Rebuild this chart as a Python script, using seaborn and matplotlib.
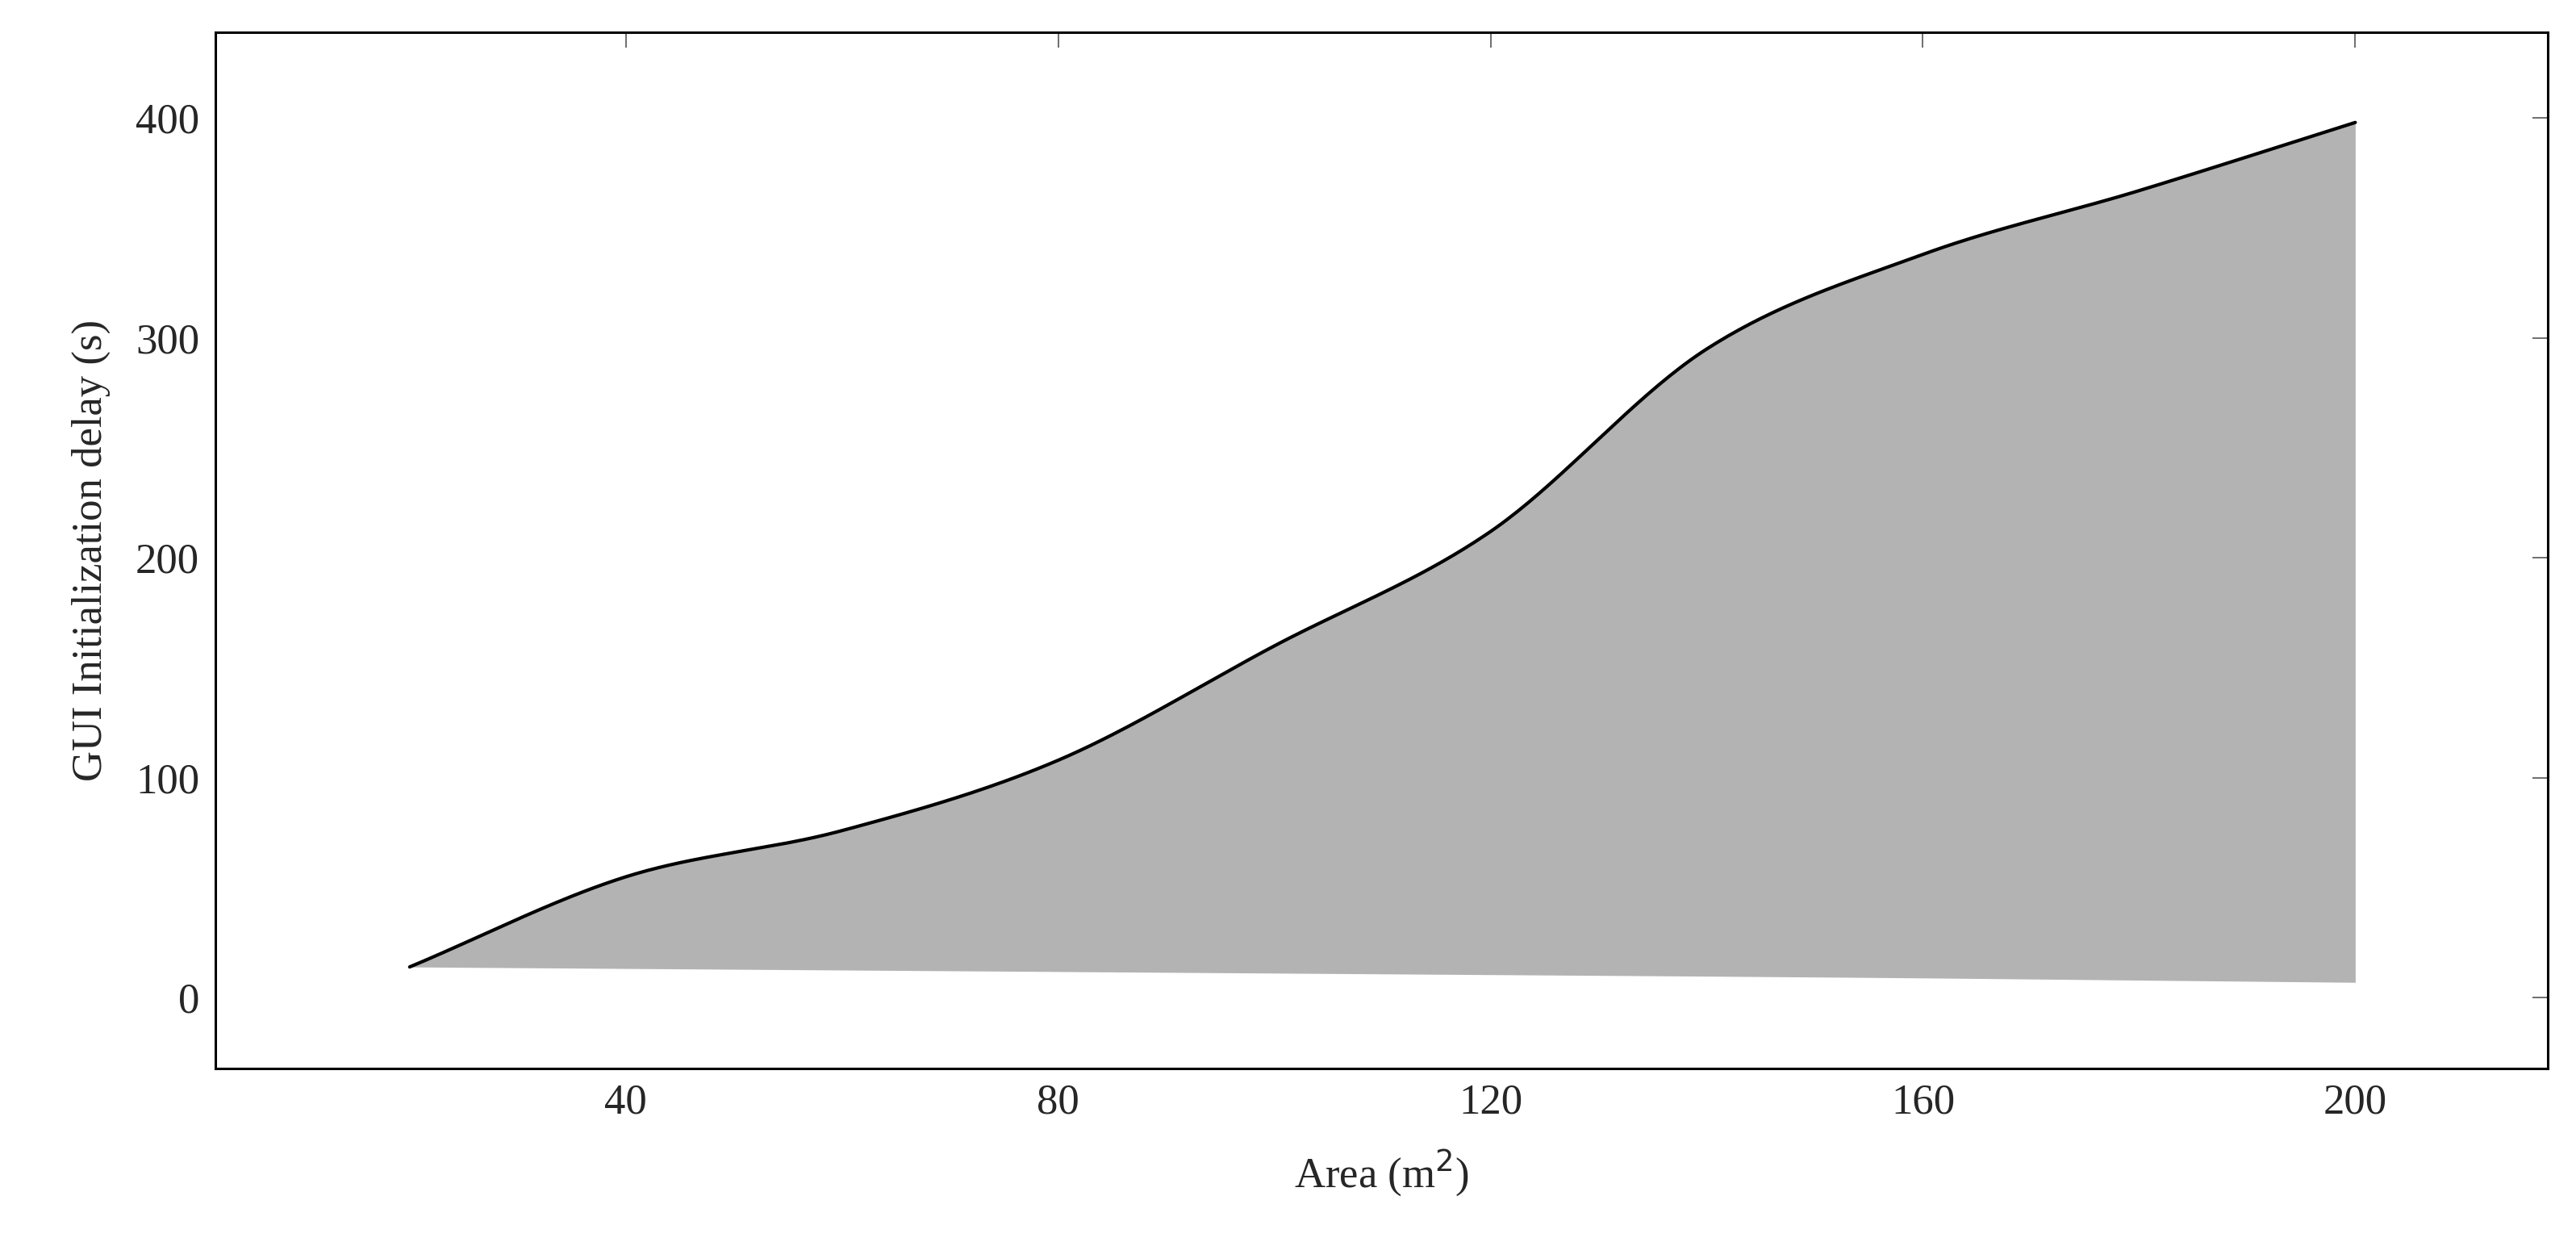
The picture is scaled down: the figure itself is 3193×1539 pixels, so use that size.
import numpy as np
import matplotlib
matplotlib.use("Agg")
import matplotlib.pyplot as plt
import seaborn as sns

area = [20, 40, 60, 80, 100, 120, 140, 160, 180, 200]
delay_upper = [14, 55, 76, 108, 160, 212, 295, 338, 367, 398]
delay_lower = [14, 13.3, 12.6, 11.9, 11.2, 10.5, 9.8, 9.0, 8.0, 7.0]
xticks = [40, 80, 120, 160, 200]
yticks = [0, 100, 200, 300, 400]

def smooth(x, y, n=40):
    x = np.asarray(x, float); y = np.asarray(y, float)
    m = np.gradient(y, x)
    xs, ys = [], []
    for i in range(len(x) - 1):
        h = x[i+1] - x[i]
        t = np.linspace(0, 1, n, endpoint=False)
        h00 = 2*t**3 - 3*t**2 + 1; h10 = t**3 - 2*t**2 + t
        h01 = -2*t**3 + 3*t**2; h11 = t**3 - t**2
        xs.append(x[i] + t*h)
        ys.append(h00*y[i] + h10*h*m[i] + h01*y[i+1] + h11*h*m[i+1])
    xs.append([x[-1]]); ys.append([y[-1]])
    return np.concatenate(xs), np.concatenate(ys)

sns.set_theme(style="white")
plt.rcParams['font.family'] = ['Liberation Serif', 'DejaVu Serif']

fig = plt.figure(figsize=(31.93, 15.39), dpi=100)
ax = fig.add_axes([0.0835, 0.140, 0.9055, 0.834])
xu, yu = smooth(area, delay_upper)
xl, yl = smooth(area, delay_lower)
ax.fill_between(xu, yl, yu, color="#b3b3b3", linewidth=0)
sns.lineplot(x=xu, y=yu, ax=ax, color="black", linewidth=3, sort=False)
ax.set_xlim(2, 217.8)
ax.set_ylim(-32, 439)
ax.set_xticks(xticks); ax.set_yticks(yticks)
ax.tick_params(direction="in", length=14, width=1.2, top=True, right=True,
               labelsize=38, color="#555555", pad=14)
for s in ax.spines.values():
    s.set_color("black"); s.set_linewidth(2.2)
ax.set_xlabel("Area (m$^2$)", fontsize=38, labelpad=22)
ax.set_ylabel("GUI Initialization delay (s)", fontsize=38, labelpad=22)
fig.savefig("out.png", dpi=100)
